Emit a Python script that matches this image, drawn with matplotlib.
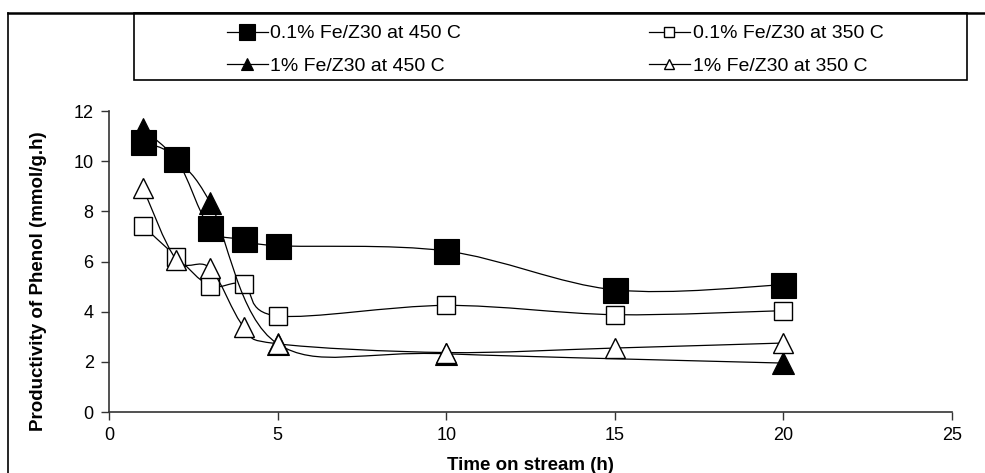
import numpy as np
import matplotlib
matplotlib.use("Agg")
import matplotlib.pyplot as plt
from matplotlib.path import Path
from matplotlib.patches import PathPatch, Rectangle
from matplotlib.lines import Line2D

plt.rcParams['font.family'] = ['Liberation Sans', 'DejaVu Sans']

# data
t_full = [1, 2, 3, 4, 5, 10, 15, 20]
sq450 = [10.76, 10.07, 7.32, 6.89, 6.63, 6.42, 4.87, 5.07]
sq350 = [7.43, 6.19, 5.03, 5.09, 3.83, 4.25, 3.88, 4.04]
t_tri450 = [1, 2, 3, 5, 10, 20]
tri450 = [11.3, 10.1, 8.35, 2.72, 2.32, 1.95]
tri350 = [8.95, 6.07, 5.73, 3.39, 2.72, 2.37, 2.55, 2.75]

labels = ['0.1% Fe/Z30 at 450 C', '1% Fe/Z30 at 450 C',
          '0.1% Fe/Z30 at 350 C', '1% Fe/Z30 at 350 C']


def smooth_path(x, y):
    # excel style smoothed line: cubic bezier, catmull-rom control points
    p = np.column_stack([x, y]).astype(float)
    n = len(p)
    verts = [p[0]]
    codes = [Path.MOVETO]
    for i in range(n - 1):
        prev = p[i - 1] if i > 0 else p[i]
        nxt = p[i + 2] if i + 2 < n else p[i + 1]
        c1 = p[i] + (p[i + 1] - prev) / 6.0
        c2 = p[i + 1] - (nxt - p[i]) / 6.0
        verts += [c1, c2, p[i + 1]]
        codes += [Path.CURVE4] * 3
    return Path(verts, codes)


fig = plt.figure(figsize=(9.85, 4.73), dpi=100)
ax = fig.add_axes([109/985, 1-412/473, 843/985, 301/473])

series = [
    (t_full, sq450, dict(marker='s', ms=18, mfc='black', mec='black', mew=0.8), 12),
    (t_full, sq350, dict(marker='s', ms=13.5, mfc='white', mec='black', mew=1.0), 6.5),
    (t_tri450, tri450, dict(marker='^', ms=15.5, mfc='black', mec='black', mew=0.8), 9),
    (t_full, tri350, dict(marker='^', ms=15, mfc='white', mec='black', mew=1.0), 7.5),
]
handles = []
for k, (x, y, st, lms) in enumerate(series):
    ax.add_patch(PathPatch(smooth_path(x, y), fill=False, ec='black', lw=0.9, zorder=2 + k))
    ax.plot(x, y, ls='none', zorder=2.5 + k, **st)
    hst = dict(st)
    hst['ms'] = lms
    handles.append(Line2D([], [], color='black', lw=0.9, **hst))

ax.set_xlim(0, 25)
ax.set_ylim(0, 12)
ax.set_xticks([0, 5, 10, 15, 20, 25])
ax.set_yticks(range(0, 13, 2))
ax.spines['top'].set_visible(False)
ax.spines['right'].set_visible(False)
for s in ['left', 'bottom']:
    ax.spines[s].set_color('#333333')
    ax.spines[s].set_linewidth(1.2)
ax.tick_params(direction='out', length=6, width=1, labelsize=13, color='#333333', pad=5)
ax.set_xlabel('Time on stream (h)', fontsize=13.5, fontweight='bold', labelpad=9)
ax.set_ylabel('Productivity of Phenol (mmol/g.h)', fontsize=13.5, fontweight='bold')
ax.yaxis.set_label_coords(-0.0735, 0.436)

# chart area border and legend box
fig.add_artist(Line2D([7.5/985, 7.5/985], [0, 1-13/473], color='black', lw=1.2))
fig.add_artist(Line2D([7.5/985, 1], [1-13/473, 1-13/473], color='black', lw=1.8))
fig.add_artist(Rectangle((134/985, 1-80/473), 833/985, 67/473, fill=False,
                         ec='black', lw=1.2, transform=fig.transFigure))

order = [0, 2, 1, 3]
fig.legend([handles[i] for i in order], labels,
           ncol=2, loc='upper left', bbox_to_anchor=(217/985, 1-15/473),
           frameon=False, fontsize=14, markerscale=1, handlelength=2.1,
           handletextpad=0.15, columnspacing=9.65, labelspacing=0.78, borderpad=0)

fig.savefig('out.png', dpi=100)
